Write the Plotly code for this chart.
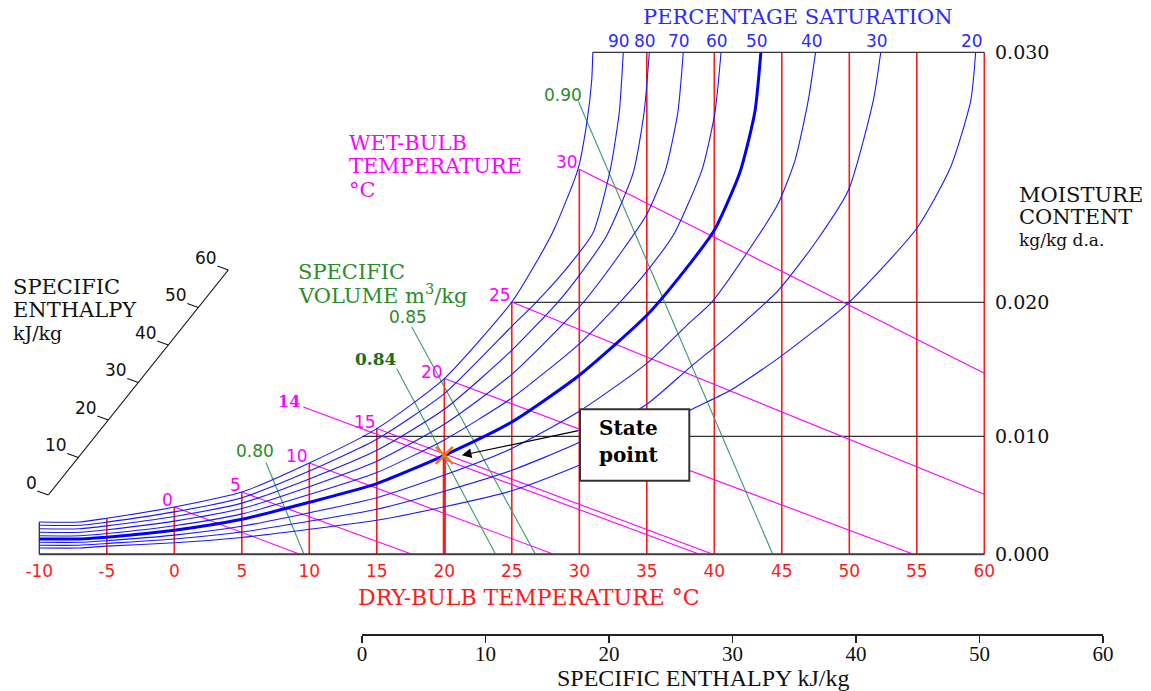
import plotly.graph_objects as go

FIG_W, FIG_H = 1151, 691

# ============================ DATA ============================
# Vertical chart units: 0 = 0.000 kg/kg line, 502 = 0.030 kg/kg line (top edge of chart)
dry_bulb_ticks = [-10, -5, 0, 5, 10, 15, 20, 25, 30, 35, 40, 45, 50, 55, 60]
dry_bulb_lines = [-5, 0, 5, 10, 15, 20, 25, 30, 35, 40, 45, 50, 55, 60]
dry_bulb_tops = [36, 47.3, 62.3, 91.3, 125.7, 175.7, 252.3, 385, 502, 502, 502, 502, 502, 502]

moisture_labels = ["0.000", "0.010", "0.020", "0.030"]
moisture_heights = [0, 118, 252, 502]
moisture_line_start = [-10, 13.9, 24.9, 31.0]

# percentage saturation curves (dry bulb degC, chart height)
sat100_T = [-10, -7, -5, 0, 5, 10, 15, 20, 25, 26.6, 28.1, 29.9, 30.55, 30.92, 31.0]
sat100_H = [32.3, 32.3, 36, 47.3, 62.3, 91.3, 125.7, 175.7, 252.3, 287, 324, 385, 431, 474, 502]
sat90_T = [-10, -7, -5, 0, 5, 10, 15, 20, 25, 26.8, 29, 31, 32.3, 32.96, 33.26]
sat90_H = [29, 29, 32.2, 42.4, 56.6, 83.2, 115, 160.6, 228, 252, 285, 321, 385, 442, 502]
sat80_T = [-10, -7, -5, 0, 5, 10, 15, 20, 25, 28.4, 30, 32, 34.0, 34.8, 35.19]
sat80_H = [25.5, 25.5, 28.4, 37.8, 51.2, 75.4, 104, 145, 204, 252, 279, 318, 382, 442, 502]
sat70_T = [-10, -7, -5, 0, 5, 10, 15, 20, 25, 30.3, 33, 35, 36.4, 37.3, 37.7]
sat70_H = [22, 22, 24.6, 33.2, 45.8, 67.6, 93, 130, 180, 252, 300, 340, 385, 442, 502]
sat60_T = [-10, -7, -5, 0, 5, 10, 15, 20, 25, 30, 33, 35, 37, 39.1, 40.05, 40.5]
sat60_H = [18.5, 18.5, 20.8, 28.6, 40.4, 59.8, 81.8, 114.4, 156.3, 210.5, 252, 283, 320, 385, 442, 502]
sat50_T = [-10, -7, -5, 0, 5, 10, 15, 20, 25, 30, 35, 38.2, 40, 41.9, 43.0, 43.45]
sat50_H = [15.3, 15.3, 17, 24, 35, 52, 70.7, 99, 132.3, 179, 239, 290.7, 324, 382, 442, 502]
sat40_T = [-10, -7, -5, 0, 5, 10, 15, 20, 25, 30, 35, 38.2, 39.8, 42.4, 44.74, 46.0, 46.96, 47.5]
sat40_H = [12, 12, 13.6, 19.2, 28, 41.6, 56.6, 79.2, 105.8, 143, 191, 232, 252, 301, 351, 395, 454, 502]
sat30_T = [-10, -7, -5, 0, 5, 10, 15, 20, 25, 30, 35, 38.2, 41, 44.74, 47.5, 49.93, 51.78, 52.33]
sat30_H = [9, 9, 10.8, 15.3, 22.3, 33, 45, 63, 84, 112, 150, 187, 218, 264, 312, 364, 454, 502]
sat20_T = [-10, -7, -5, 0, 5, 10, 15, 20, 25, 30, 35, 38.2, 41.2, 44.7, 49.9, 55, 57.5, 59.0, 59.36]
sat20_H = [6.3, 6.3, 8.2, 11.5, 16.8, 25, 34, 47.5, 63.5, 89, 119, 144, 164, 195.7, 251, 326, 387, 454, 502]
sat_labels = [100, 90, 80, 70, 60, 50, 40, 30, 20]

# wet-bulb lines
wb_labels = ["0", "5", "10", "14", "15", "20", "25", "30"]
wb_start_T = [0, 5, 10, 9.56, 15, 20, 25, 30]
wb_start_H = [47.3, 62.3, 91.3, 147.3, 125.7, 175.7, 252.3, 385]
wb_end_T = [9.3, 17.6, 28.1, 38.9, 39.9, 54.75, 60, 60]
wb_end_H = [0, 0, 0, 0, 0, 0, 60, 181]

# specific volume lines
vol_labels = ["0.80", "0.84", "0.85", "0.90"]
vol_start_T = [6.79, 16.47, 17.59, 29.93]
vol_start_H = [91.8, 185.7, 227.3, 453]
vol_end_T = [9.61, 23.8, 26.75, 44.33]
vol_end_H = [0, 0, 0, 0]

# state point
state_T, state_H = 20, 99

# specific enthalpy scales
enthalpy_ticks = [0, 10, 20, 30, 40, 50, 60]

# ============================ STYLE / LAYOUT HELPERS ============================
BLUE = "#1818FF"
RED = "#FF1A1A"
MAG = "#FF00FF"
GREEN_LINE = "#3A9A6A"
GREEN_TXT = "#2A8C2A"
BLACK = "#111111"
SERIF = "DejaVu Serif"
SANS = "DejaVu Sans"


def pxx(px):
    return px / FIG_W


def pxy(py):
    return 1 - py / FIG_H


sat_T = [sat100_T, sat90_T, sat80_T, sat70_T, sat60_T, sat50_T, sat40_T, sat30_T, sat20_T]
sat_H = [sat100_H, sat90_H, sat80_H, sat70_H, sat60_H, sat50_H, sat40_H, sat30_H, sat20_H]

fig = go.Figure()

# dry-bulb (red) lines
xs, ys = [], []
for t, top in zip(dry_bulb_lines, dry_bulb_tops):
    xs += [t, t, None]
    ys += [0, top, None]
fig.add_trace(go.Scatter(x=xs, y=ys, mode="lines", line=dict(color=RED, width=1.6),
                         hoverinfo="skip", showlegend=False))
# thick red segment down from the state point
fig.add_trace(go.Scatter(x=[state_T, state_T], y=[0, state_H], mode="lines",
                         line=dict(color=RED, width=3.2), hoverinfo="skip", showlegend=False))

# moisture content (black) lines
xs, ys = [], []
for h, t0 in zip(moisture_heights, moisture_line_start):
    xs += [t0, 60, None]
    ys += [h, h, None]
fig.add_trace(go.Scatter(x=xs, y=ys, mode="lines", line=dict(color="#333333", width=1.3),
                         hoverinfo="skip", showlegend=False))
# left edge
fig.add_trace(go.Scatter(x=[-10, -10], y=[0, sat100_H[0]], mode="lines",
                         line=dict(color="#333333", width=1.3), hoverinfo="skip", showlegend=False))

# wet-bulb lines
xs, ys = [], []
for a, b, c, d in zip(wb_start_T, wb_start_H, wb_end_T, wb_end_H):
    xs += [a, c, None]
    ys += [b, d, None]
fig.add_trace(go.Scatter(x=xs, y=ys, mode="lines", line=dict(color=MAG, width=1.1),
                         hoverinfo="skip", showlegend=False))

# specific volume lines
xs, ys = [], []
for a, b, c, d in zip(vol_start_T, vol_start_H, vol_end_T, vol_end_H):
    xs += [a, c, None]
    ys += [b, d, None]
fig.add_trace(go.Scatter(x=xs, y=ys, mode="lines", line=dict(color=GREEN_LINE, width=1.1),
                         hoverinfo="skip", showlegend=False))

# percentage saturation curves
for p, T, Hs in zip(sat_labels, sat_T, sat_H):
    fig.add_trace(go.Scatter(x=T, y=Hs, mode="lines",
                             line=dict(color="#0000FF" if p == 50 else BLUE,
                                       width=3 if p == 50 else 1.1,
                                       shape="spline", smoothing=0.6),
                             hoverinfo="skip", showlegend=False))

# state point marker
fig.add_trace(go.Scatter(x=[state_T], y=[state_H], mode="markers",
                         marker=dict(symbol="x-thin", size=17, line=dict(color="#F07818", width=2.6)),
                         hoverinfo="skip", showlegend=False))

# dummy trace so that the enthalpy axis x2 is drawn
fig.add_trace(go.Scatter(x=[0, 60], y=[None, None], xaxis="x2", yaxis="y", mode="lines",
                         hoverinfo="skip", showlegend=False))

# bottom axis line (0.000 kg/kg)
fig.add_trace(go.Scatter(x=[-10, 60], y=[0, 0], mode="lines",
                         line=dict(color="#444444", width=2), hoverinfo="skip", showlegend=False))

ann = []
shapes = []

# percentage saturation labels at the tops of the curves
for p, T in zip(sat_labels[1:], sat_T[1:]):
    ann.append(dict(x=T[-1], y=502, xref="x", yref="y", text=str(p), showarrow=False,
                    xanchor="center", yanchor="bottom", xshift=-4, yshift=-1,
                    font=dict(family=SANS, size=17, color="#2A2AFF")))
ann.append(dict(x=pxx(797.5), y=pxy(16.7), xref="paper", yref="paper", text="PERCENTAGE SATURATION",
                showarrow=False, xanchor="center", yanchor="middle",
                font=dict(family=SERIF, size=21, color="#2A2AFF")))

# wet bulb labels
for lab, t, h in zip(wb_labels, wb_start_T, wb_start_H):
    if lab == "14":
        ann.append(dict(x=t, y=h, xref="x", yref="y", text="<b>14</b>", showarrow=False,
                        xanchor="right", yanchor="middle", xshift=-1, yshift=5,
                        font=dict(family=SERIF, size=16, color=MAG)))
    else:
        ann.append(dict(x=t, y=h, xref="x", yref="y", text=lab, showarrow=False,
                        xanchor="right", yanchor="middle", xshift=1, yshift=7,
                        font=dict(family=SANS, size=17, color=MAG)))
for txt, y in zip(["WET-BULB", "TEMPERATURE", "°C"], [143, 166, 190]):
    ann.append(dict(x=pxx(347), y=pxy(y), xref="paper", yref="paper", text=txt, showarrow=False,
                    xanchor="left", yanchor="middle", font=dict(family=SERIF, size=21, color=MAG)))

# specific volume labels
vol_label_offsets = [(-11, 11), (-21, 10), (-4, 10), (-15, 6)]
for lab, t, h, (dx, dy) in zip(vol_labels, vol_start_T, vol_start_H, vol_label_offsets):
    if lab == "0.84":
        f = dict(family=SERIF, size=17, color="#1B6E1B")
        txt = "<b>0.84</b>"
    else:
        f = dict(family=SANS, size=17, color=GREEN_TXT)
        txt = lab
    ann.append(dict(x=t, y=h, xref="x", yref="y", text=txt, showarrow=False,
                    xanchor="center", yanchor="middle", xshift=dx, yshift=dy, font=f))
for txt, y in zip(["SPECIFIC", "VOLUME m<sup>3</sup>/kg"], [271.7, 294]):
    ann.append(dict(x=pxx(296), y=pxy(y), xref="paper", yref="paper", text=txt, showarrow=False,
                    xanchor="left", yanchor="middle", font=dict(family=SERIF, size=21, color=GREEN_TXT)))

# left specific enthalpy text
for txt, y, s in zip(["SPECIFIC", "ENTHALPY", "kJ/kg"], [287, 310, 333], [21, 21, 19]):
    ann.append(dict(x=pxx(11), y=pxy(y), xref="paper", yref="paper", text=txt, showarrow=False,
                    xanchor="left", yanchor="middle", font=dict(family=SERIF, size=s, color=BLACK)))

# moisture content text
for txt, y, s in zip(["MOISTURE", "CONTENT", "kg/kg d.a."], [195, 217, 240], [21, 21, 17]):
    ann.append(dict(x=pxx(1017), y=pxy(y), xref="paper", yref="paper", text=txt, showarrow=False,
                    xanchor="left", yanchor="middle", font=dict(family=SERIF, size=s, color=BLACK)))

# dry bulb title
ann.append(dict(x=pxx(529), y=pxy(597.5), xref="paper", yref="paper", text="DRY-BULB TEMPERATURE °C",
                showarrow=False, xanchor="center", yanchor="middle",
                font=dict(family=SERIF, size=22, color=RED)))

# bottom enthalpy title
ann.append(dict(x=pxx(702.5), y=0, xref="paper", yref="paper", text="SPECIFIC ENTHALPY kJ/kg",
                showarrow=False, xanchor="center", yanchor="bottom", yshift=-1, borderpad=0,
                font=dict(family="Liberation Serif", size=24, color=BLACK)))

# state point arrow + box
ann.append(dict(x=21.3, y=state_H, xref="x", yref="y", text="", showarrow=True,
                ax=118, ay=-25, axref="pixel", ayref="pixel",
                arrowhead=2, arrowsize=1.6, arrowwidth=1.2, arrowcolor="#000000"))
shapes.append(dict(type="rect", xref="paper", yref="paper",
                   x0=pxx(580), x1=pxx(689.3), y0=pxy(480.7), y1=pxy(409.3),
                   line=dict(color="#333333", width=2), fillcolor="white", layer="above"))
ann.append(dict(x=pxx(597), y=pxy(428), xref="paper", yref="paper", text="<b>State</b>",
                showarrow=False, xanchor="left", yanchor="middle",
                font=dict(family=SERIF, size=20, color="#000000")))
ann.append(dict(x=pxx(597), y=pxy(455), xref="paper", yref="paper", text="<b>point</b>",
                showarrow=False, xanchor="left", yanchor="middle",
                font=dict(family=SERIF, size=20, color="#000000")))

# diagonal specific enthalpy scale (left)
P0 = (48.3, 495.0)
P1 = (228.3, 270.0)
shapes.append(dict(type="line", xref="paper", yref="paper",
                   x0=pxx(P0[0]), y0=pxy(P0[1]), x1=pxx(P1[0]), y1=pxy(P1[1]),
                   line=dict(color=BLACK, width=1.2)))
for v in enthalpy_ticks:
    f = v / enthalpy_ticks[-1]
    bx = P0[0] + f * (P1[0] - P0[0])
    by = P0[1] + f * (P1[1] - P0[1])
    ex, ey = bx - 11, by - 4
    shapes.append(dict(type="line", xref="paper", yref="paper",
                       x0=pxx(bx), y0=pxy(by), x1=pxx(ex), y1=pxy(ey),
                       line=dict(color=BLACK, width=1.2)))
    ann.append(dict(x=pxx(ex + 2), y=pxy(ey - 8.5), xref="paper", yref="paper", text=str(v),
                    showarrow=False, xanchor="right", yanchor="middle",
                    font=dict(family=SANS, size=17, color=BLACK)))

fig.update_layout(
    width=FIG_W, height=FIG_H,
    margin=dict(l=0, r=0, t=0, b=0, pad=0),
    paper_bgcolor="white", plot_bgcolor="rgba(0,0,0,0)",
    showlegend=False, hovermode=False,
    xaxis=dict(domain=[pxx(36.6), pxx(987.0)], range=[-10.2, 60.2],
               tickvals=dry_bulb_ticks, ticktext=[str(t) for t in dry_bulb_ticks],
               tickfont=dict(family=SANS, size=17, color=RED),
               showgrid=False, zeroline=False, showline=False, ticks="",
               ticklabelstandoff=3, fixedrange=True, automargin=False),
    yaxis=dict(domain=[pxy(556.3), pxy(50.3)], range=[-2, 504], side="right",
               tickvals=moisture_heights, ticktext=moisture_labels,
               tickfont=dict(family=SERIF, size=19, color=BLACK),
               showgrid=False, zeroline=False, showline=False, ticks="",
               ticklabelstandoff=7, fixedrange=True, automargin=False),
    xaxis2=dict(domain=[pxx(362), pxx(1103)], range=[0, 60], anchor="free",
                position=pxy(634), side="bottom",
                tickvals=enthalpy_ticks, ticktext=[str(v) for v in enthalpy_ticks],
                tickfont=dict(family="Liberation Serif", size=21, color=BLACK),
                showline=True, linecolor="#222222", linewidth=1.5,
                ticks="outside", ticklen=7, tickwidth=1.5, tickcolor="#222222",
                ticklabelstandoff=-7,
                showgrid=False, zeroline=False, fixedrange=True, automargin=False),
    annotations=ann,
    shapes=shapes,
)

fig.write_html("out.html", config={"displayModeBar": False, "staticPlot": True},
               post_script="document.body.style.margin='0px';document.body.style.overflow='hidden';")
